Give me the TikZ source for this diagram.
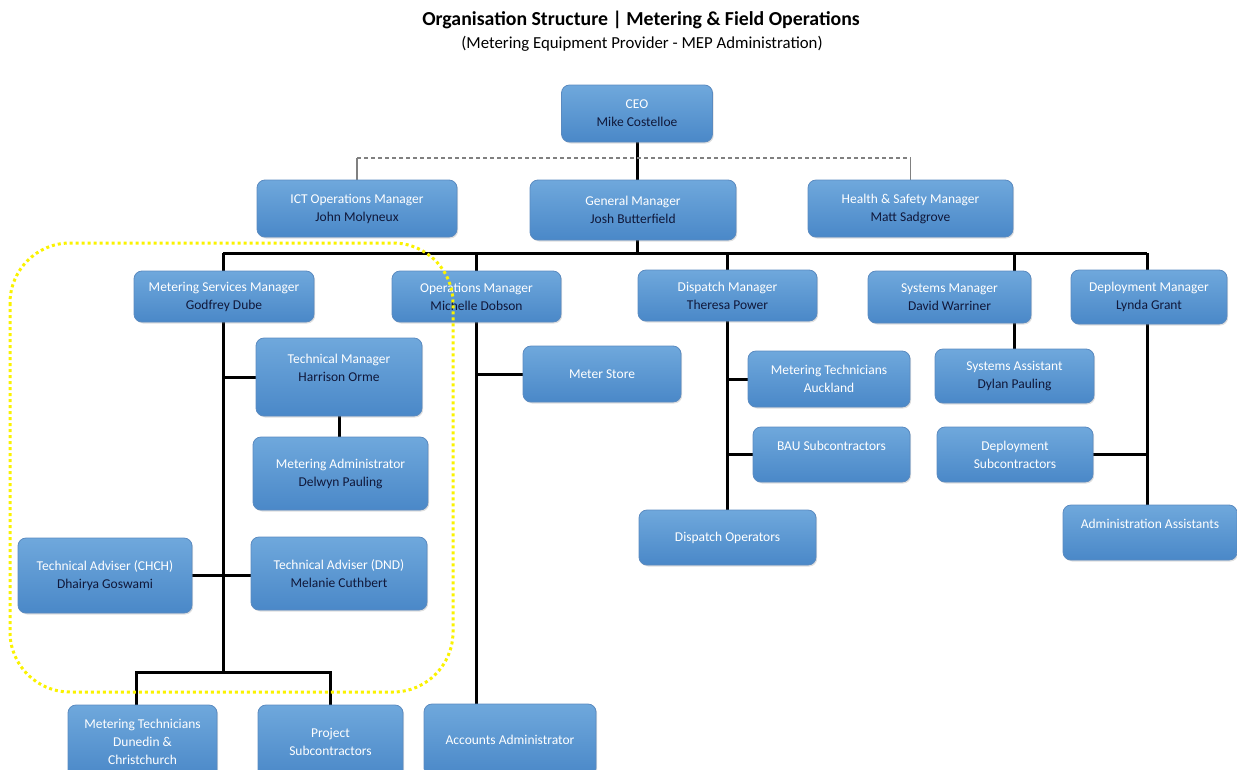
\documentclass[tikz,border=0pt]{standalone}
\usepackage{fontspec}
\setmainfont{Carlito}
\usetikzlibrary{positioning, backgrounds, shadows}

\definecolor{boxtop}{HTML}{6FA8DC}
\definecolor{boxbot}{HTML}{4A88C8}
\definecolor{boxedge}{HTML}{5A8AC0}
\definecolor{nm}{HTML}{10183A}
\definecolor{hilite}{HTML}{FAF200}

\begin{document}
\begin{tikzpicture}[
    x=1pt, y=-1pt,
    box/.style={draw=boxedge, line width=0.8pt, rounded corners=8pt, top color=boxtop, bottom color=boxbot,
        align=center, text=white, inner sep=0pt, font=\fontsize{13.5}{18}\selectfont,
        drop shadow={shadow xshift=1.2pt, shadow yshift=-1.5pt, opacity=0.25}},
    conn/.style={line width=3pt, black},
    dotline/.style={line width=1.2pt, gray},
    ring/.style={draw=hilite, line width=3pt, dash pattern=on 3pt off 3pt, rounded corners=60pt}
]
\useasboundingbox (0,0) rectangle (1237,769);

% === HEADINGS ===
\node[font=\fontsize{19.8}{22}\selectfont\bfseries] (head) at (641,20) {Organisation Structure | Metering \& Field Operations};
\node[font=\fontsize{16.8}{19}\selectfont] (subhead) at (642,44) {(Metering Equipment Provider - MEP Administration)};

% === TOP ===
\node[box, minimum width=151, minimum height=57] (ceo) at (637,113.5) {CEO\\\textcolor{nm}{Mike Costelloe}};
\node[box, minimum width=200, minimum height=57] (ict) at (357,208.5) {ICT Operations Manager\\\textcolor{nm}{John Molyneux}};
\node[box, minimum width=206, minimum height=60] (gm) at (633,210) {General Manager\\\textcolor{nm}{Josh Butterfield}};
\node[box, minimum width=205, minimum height=57] (hs) at (910.5,208.5) {Health \& Safety Manager\\\textcolor{nm}{Matt Sadgrove}};

% === MANAGERS ===
\node[box, minimum width=180, minimum height=51] (msm) at (224,296.5) {Metering Services Manager\\\textcolor{nm}{Godfrey Dube}};
\node[box, minimum width=169, minimum height=51] (ops) at (476.5,296.5) {Operations Manager\\\textcolor{nm}{Michelle Dobson}};
\node[box, minimum width=179, minimum height=51] (disp) at (727.5,295.5) {Dispatch Manager\\\textcolor{nm}{Theresa Power}};
\node[box, minimum width=163, minimum height=52] (sys) at (949.5,297) {Systems Manager\\\textcolor{nm}{David Warriner}};
\node[box, minimum width=156, minimum height=54] (dep) at (1149,297) {Deployment Manager\\\textcolor{nm}{Lynda Grant}};

% Metering services
\node[box, minimum width=166, minimum height=78] (tm) at (339,377) {Technical Manager\\\textcolor{nm}{Harrison Orme}\\\mbox{}};
\node[box, minimum width=175, minimum height=73] (madm) at (340.5,473.5) {Metering Administrator\\\textcolor{nm}{Delwyn Pauling}};
\node[box, minimum width=174, minimum height=75] (tachch) at (105,575.5) {Technical Adviser (CHCH)\\\textcolor{nm}{Dhairya Goswami}};
\node[box, minimum width=176, minimum height=73] (tadnd) at (339,573.5) {Technical Adviser (DND)\\\textcolor{nm}{Melanie Cuthbert}};
\node[box, minimum width=149, minimum height=73] (mtdc) at (142.5,741.5) {Metering Technicians\\Dunedin \&\\Christchurch};
\node[box, minimum width=145, minimum height=73] (psub) at (330.5,741.5) {Project\\Subcontractors};

% Operations
\node[box, minimum width=158, minimum height=56] (mstore) at (602,374) {Meter Store};
\node[box, minimum width=172, minimum height=72] (acc) at (510,740) {Accounts Administrator};

% Dispatch
\node[box, minimum width=162, minimum height=56] (mtak) at (829,379) {Metering Technicians\\Auckland};
\node[box, minimum width=157, minimum height=55] (bau) at (831.5,454.5) {BAU Subcontractors\\\mbox{}};
\node[box, minimum width=177, minimum height=55] (dops) at (727.5,537.5) {Dispatch Operators};

% Systems and deployment
\node[box, minimum width=159, minimum height=54] (sysa) at (1014.5,376) {Systems Assistant\\\textcolor{nm}{Dylan Pauling}};
\node[box, minimum width=156, minimum height=55] (depsub) at (1015,454.5) {Deployment\\Subcontractors};
\node[box, minimum width=174, minimum height=55] (admas) at (1150,532.5) {Administration Assistants\\\mbox{}};

% === CONNECTORS ===
\coordinate (dash) at (0,158);
\coordinate (busL) at (223,253);
\coordinate (busR) at (1147,253);
\coordinate (bbus) at (0,672);
\begin{scope}[on background layer]
    \draw[conn] (ceo.south) -- (ceo.south |- gm.north);
    \draw[dotline, dash pattern=on 4pt off 3pt] (ict.north |- dash) -- (hs.north |- dash);
    \draw[dotline] (ict.north) -- (ict.north |- dash);
    \draw[dotline] (hs.north) -- (hs.north |- dash);
    \draw[conn] (gm.south -| ceo.south) -- (busL -| ceo.south);
    \draw[conn] (busL) -- (busR);
    \draw[conn] (busL) -- (busL |- msm.north);
    \draw[conn] (busL -| ops.north) -- (ops.north);
    \draw[conn] (busL -| disp.north) -- (disp.north);
    \draw[conn] (busL -| sysa.north) -- (sys.north -| sysa.north);
    \draw[conn] (busR) -- (busR |- dep.north);
    % metering services
    \draw[conn] (msm.south -| busL) -- (bbus -| busL);
    \draw[conn] (tm.west) -- (tm.west -| busL);
    \draw[conn] (tm.south) -- (tm.south |- madm.north);
    \draw[conn] (tachch.east) -- (tachch.east -| tadnd.west);
    \draw[conn] ([xshift=-6]mtdc.north) |- (bbus -| psub.north) -- (psub.north);
    % operations
    \draw[conn] (ops.south) -- (ops.south |- acc.north);
    \draw[conn] (mstore.west) -- (mstore.west -| ops.south);
    % dispatch
    \draw[conn] (disp.south) -- (dops.north);
    \draw[conn] (mtak.west) -- (mtak.west -| disp.south);
    \draw[conn] (bau.west) -- (bau.west -| disp.south);
    % systems, deployment
    \draw[conn] (sys.south -| sysa.north) -- (sysa.north);
    \draw[conn] (dep.south -| busR) -- (admas.north -| busR);
    \draw[conn] (depsub.east) -- (depsub.east -| busR);
\end{scope}

% Highlight
\draw[ring] (10,243) rectangle (453,692);

\end{tikzpicture}
\end{document}
